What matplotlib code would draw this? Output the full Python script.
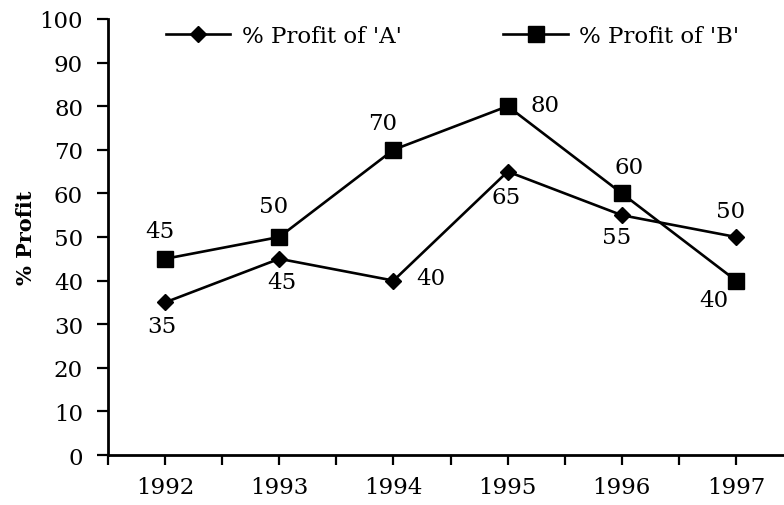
import numpy as np
import matplotlib.pyplot as plt
from matplotlib.ticker import MultipleLocator

years = [1992, 1993, 1994, 1995, 1996, 1997]
profit_a = [35, 45, 40, 65, 55, 50]
profit_b = [45, 50, 70, 80, 60, 40]

# label offsets in points (dx, dy)
off_a = [(-2, -17), (2, -17), (27, 2), (-1, -18), (-4, -16), (-4, 19)]
off_b = [(-4, 20), (-4, 22), (-8, 19), (27, 1), (5, 19), (-16, -14)]

plt.rcParams["font.family"] = "DejaVu Serif"
fs = 16.5

fig = plt.figure(figsize=(7.84, 5.06), dpi=100)
ax = fig.add_axes([0.1378, 0.0988, 0.8622, 0.8617])

ax.plot(years, profit_a, c="k", lw=1.9, marker="D", ms=8.5, label="% Profit of 'A'")
ax.plot(years, profit_b, c="k", lw=1.9, marker="s", ms=11, label="% Profit of 'B'")

for x, y, (dx, dy) in zip(years, profit_a, off_a):
    ax.annotate(str(y), (x, y), xytext=(dx, dy), textcoords="offset points",
                ha="center", va="center", fontsize=fs)
for x, y, (dx, dy) in zip(years, profit_b, off_b):
    ax.annotate(str(y), (x, y), xytext=(dx, dy), textcoords="offset points",
                ha="center", va="center", fontsize=fs)

ax.set_xlim(1991.5, 1997.42)
ax.set_ylim(0, 100)
ax.set_xticks(years)
ax.xaxis.set_minor_locator(MultipleLocator(0.5))
ax.yaxis.set_major_locator(MultipleLocator(10))
ax.tick_params(axis="x", which="both", length=7, width=1.6, pad=8, labelsize=fs)
ax.tick_params(axis="y", length=8, width=1.6, pad=10, labelsize=fs)

for s in ["top", "right"]:
    ax.spines[s].set_visible(False)
for s in ["left", "bottom"]:
    ax.spines[s].set_linewidth(2.0)

ax.set_ylabel("% Profit", fontsize=15, fontweight="bold")
ax.yaxis.set_label_coords(-0.106, 0.5)

ax.legend(loc="center left", bbox_to_anchor=(0.0857, 0.961), ncol=2, frameon=False,
          fontsize=fs, handlelength=2.8, handletextpad=0.5, columnspacing=4.45,
          borderpad=0, borderaxespad=0)

fig.savefig("out.png", dpi=100)
